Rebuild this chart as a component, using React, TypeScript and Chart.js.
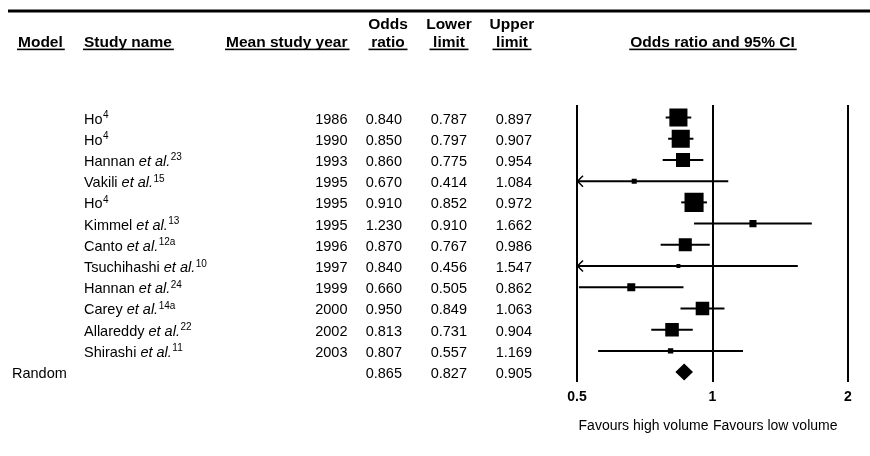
import React, { useEffect, useRef } from 'react';
import { Chart, registerables } from 'chart.js';

Chart.register(...registerables);

// ---------- data ----------
const studyAuthors = ['Ho', 'Ho', 'Hannan', 'Vakili', 'Ho', 'Kimmel', 'Canto', 'Tsuchihashi', 'Hannan', 'Carey', 'Allareddy', 'Shirashi'];
const studyHasEtAl = [false, false, true, true, false, true, true, true, true, true, true, true];
const studyRefs = ['4', '4', '23', '15', '4', '13', '12a', '10', '24', '14a', '22', '11'];
const studyYears = [1986, 1990, 1993, 1995, 1995, 1995, 1996, 1997, 1999, 2000, 2002, 2003];
const oddsRatios = [0.84, 0.85, 0.86, 0.67, 0.91, 1.23, 0.87, 0.84, 0.66, 0.95, 0.813, 0.807];
const lowerLimits = [0.787, 0.797, 0.775, 0.414, 0.852, 0.91, 0.767, 0.456, 0.505, 0.849, 0.731, 0.557];
const upperLimits = [0.897, 0.907, 0.954, 1.084, 0.972, 1.662, 0.986, 1.547, 0.862, 1.063, 0.904, 1.169];
const studyWeights = [16.9, 16.9, 10.2, 1.3, 18.8, 2.6, 8.8, 0.8, 3.3, 9.5, 9.5, 1.5];

const summaryLabel = 'Random';
const summaryOR = [0.865];
const summaryLower = [0.827];
const summaryUpper = [0.905];

const xTicks = [0.5, 1, 2];
const headerLabels = ['Model', 'Study name', 'Mean study year', 'Odds|ratio', 'Lower|limit', 'Upper|limit', 'Odds ratio and 95% CI'];
const favourLabels = ['Favours high volume', 'Favours low volume'];

// ---------- styling ----------
const FONT = "'Liberation Sans', Arial, Helvetica, sans-serif";
const BODY = 14.5;
const HEAD = 15.5;

const squareSide = (w: number) => 4.4 * Math.sqrt(w);

const forestPlugin = {
  id: 'forest',
  beforeDatasetsDraw(chart: any) {
    const ctx = chart.ctx as CanvasRenderingContext2D;
    const xs = chart.scales.x;
    const ys = chart.scales.y;
    ctx.save();
    ctx.strokeStyle = '#000';
    ctx.fillStyle = '#000';
    oddsRatios.forEach((_, i) => {
      const y = ys.getPixelForValue(i);
      const lo = Math.max(lowerLimits[i], xs.min);
      const hi = Math.min(upperLimits[i], xs.max);
      const x1 = xs.getPixelForValue(lo);
      const x2 = xs.getPixelForValue(hi);
      ctx.lineWidth = 2;
      ctx.beginPath();
      ctx.moveTo(x1, y);
      ctx.lineTo(x2, y);
      ctx.stroke();
      if (lowerLimits[i] < xs.min) {
        ctx.lineWidth = 1.5;
        ctx.beginPath();
        ctx.moveTo(x1 + 6, y - 5.5);
        ctx.lineTo(x1 + 0.5, y);
        ctx.lineTo(x1 + 6, y + 5.5);
        ctx.stroke();
      }
    });
    // summary diamond
    const yr = ys.getPixelForValue(oddsRatios.length);
    const xl = xs.getPixelForValue(summaryLower[0]);
    const xm = xs.getPixelForValue(summaryOR[0]);
    const xr = xs.getPixelForValue(summaryUpper[0]);
    ctx.beginPath();
    ctx.moveTo(xl, yr);
    ctx.lineTo(xm, yr - 8.5);
    ctx.lineTo(xr, yr);
    ctx.lineTo(xm, yr + 8.5);
    ctx.closePath();
    ctx.fill();
    ctx.restore();
  },
  afterDraw(chart: any) {
    const ctx = chart.ctx as CanvasRenderingContext2D;
    const xs = chart.scales.x;
    const ys = chart.scales.y;
    const area = chart.chartArea;
    ctx.save();
    ctx.fillStyle = '#000';

    // top rule
    ctx.fillRect(8, 9.5, 862, 3);

    // headers
    const ulY = 48.6;
    const ulH = 1.6;
    ctx.font = `bold ${HEAD}px ${FONT}`;
    ctx.textBaseline = 'alphabetic';
    const line2 = 46.5;
    const line1 = 28.5;
    const single = (text: string, x: number, align: CanvasTextAlign) => {
      ctx.textAlign = align;
      ctx.fillText(text, x, line2);
      const w = ctx.measureText(text).width;
      let l = x;
      if (align === 'right') l = x - w;
      if (align === 'center') l = x - w / 2;
      ctx.fillRect(l - 1, ulY, w + 3, ulH);
    };
    const double = (text: string, cx: number) => {
      const [a, b] = text.split('|');
      ctx.textAlign = 'center';
      ctx.fillText(a, cx, line1);
      ctx.fillText(b, cx, line2);
      ctx.fillRect(cx - 19.5, ulY, 39, ulH);
    };
    single(headerLabels[0], 18, 'left');
    single(headerLabels[1], 84, 'left');
    single(headerLabels[2], 347.5, 'right');
    double(headerLabels[3], 388);
    double(headerLabels[4], 449);
    double(headerLabels[5], 512);
    single(headerLabels[6], (area.left + area.right) / 2, 'center');

    // rows
    const mainFont = `${BODY}px ${FONT}`;
    const italFont = `italic ${BODY}px ${FONT}`;
    const supFont = `10px ${FONT}`;
    oddsRatios.forEach((or, i) => {
      const y = ys.getPixelForValue(i) + 6;
      // name
      ctx.textAlign = 'left';
      ctx.font = mainFont;
      let cx = 84;
      const author = studyHasEtAl[i] ? studyAuthors[i] + ' ' : studyAuthors[i];
      ctx.fillText(author, cx, y);
      cx += ctx.measureText(author).width;
      if (studyHasEtAl[i]) {
        ctx.font = italFont;
        ctx.fillText('et al.', cx, y);
        cx += ctx.measureText('et al.').width;
      }
      ctx.font = supFont;
      ctx.fillText(studyRefs[i], cx + 0.5, y - 5.5);
      // numbers
      ctx.font = mainFont;
      ctx.textAlign = 'right';
      ctx.fillText(String(studyYears[i]), 347.5, y);
      ctx.fillText(or.toFixed(3), 402, y);
      ctx.fillText(lowerLimits[i].toFixed(3), 467, y);
      ctx.fillText(upperLimits[i].toFixed(3), 532, y);
    });
    const yr = ys.getPixelForValue(oddsRatios.length) + 6;
    ctx.font = mainFont;
    ctx.textAlign = 'left';
    ctx.fillText(summaryLabel, 12, yr);
    ctx.textAlign = 'right';
    ctx.fillText(summaryOR[0].toFixed(3), 402, yr);
    ctx.fillText(summaryLower[0].toFixed(3), 467, yr);
    ctx.fillText(summaryUpper[0].toFixed(3), 532, yr);

    // favours labels
    const x1 = xs.getPixelForValue(1);
    ctx.font = `14px ${FONT}`;
    ctx.textAlign = 'right';
    ctx.fillText(favourLabels[0], x1 - 4, 430);
    ctx.textAlign = 'left';
    ctx.fillText(favourLabels[1], x1 + 0.5, 430);
    ctx.restore();
  },
};

export default function App() {
  const ref = useRef<HTMLCanvasElement>(null);
  useEffect(() => {
    const chart = new Chart(ref.current as HTMLCanvasElement, {
      type: 'scatter',
      data: {
        datasets: [
          {
            data: oddsRatios.map((v, i) => ({ x: v, y: i })),
            pointStyle: 'rect',
            pointRadius: (c: any) => squareSide(studyWeights[c.dataIndex] ?? 1) / Math.SQRT2,
            backgroundColor: '#000',
            borderColor: '#000',
            pointBorderWidth: 0,
            borderWidth: 0,
          } as any,
        ],
      },
      options: {
        responsive: false,
        animation: false,
        devicePixelRatio: 1,
        events: [],
        layout: { padding: { left: 577, right: 22, top: 105, bottom: 43 } },
        plugins: { legend: { display: false }, tooltip: { enabled: false } },
        scales: {
          x: {
            type: 'logarithmic',
            min: 0.5,
            max: 2,
            afterBuildTicks: (axis: any) => {
              axis.ticks = xTicks.map((v) => ({ value: v }));
            },
            ticks: {
              callback: (v: any) => String(v),
              font: { family: FONT, size: 14, weight: 'bold' },
              color: '#000',
              padding: 7,
              maxRotation: 0,
              autoSkip: false,
            },
            grid: { color: '#000', lineWidth: 2, drawTicks: false },
            border: { display: false },
          },
          y: { type: 'linear', display: false, min: -0.59, max: 12.476, reverse: true },
        },
      } as any,
      plugins: [forestPlugin],
    });
    return () => chart.destroy();
  }, []);
  return (
    <div style={{ position: 'absolute', left: 0, top: 0, width: 870, height: 456, background: '#fff' }}>
      <canvas ref={ref} width={870} height={456} style={{ display: 'block' }} />
    </div>
  );
}
